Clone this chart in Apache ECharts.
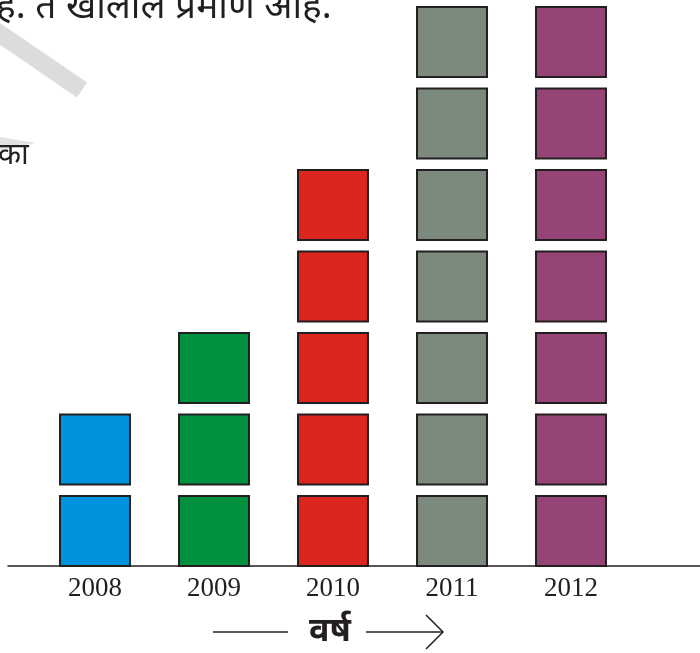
<!DOCTYPE html>
<html>
<head>
<meta charset="utf-8">
<script src="https://cdn.jsdelivr.net/npm/echarts@6/dist/echarts.min.js"></script>
<style>
  html, body { margin: 0; padding: 0; background: #fff; }
  #chart { width: 700px; height: 653px; }
</style>
</head>
<body>
<div id="chart"></div>
<script>
// years and how many squares stand above each year
var years = ['2008', '2009', '2010', '2011', '2012'];
var counts = [2, 3, 5, 7, 7];
var colors = ['#0093dd', '#00913f', '#da261e', '#7b8a7d', '#964476'];

// one cell per square: [year index, level]
var cells = [];
counts.forEach(function (n, i) {
    for (var k = 0; k < n; k++) {
        cells.push([i, k]);
    }
});

var cellFrac = 0.86;   // square height as part of one level
var widthFrac = 0.588; // square width as part of one category

var chart = echarts.init(document.getElementById('chart'));
var option = {
    animation: false,
    grid: [
        { left: 35.5, width: 595, top: 0, bottom: 87 },
        { left: 8, right: 0, top: 0, bottom: 87 }
    ],
    xAxis: [
        {
            type: 'category',
            gridIndex: 0,
            data: years,
            axisLine: { show: false },
            axisTick: { show: false },
            axisLabel: {
                margin: 9,
                color: '#231f20',
                fontFamily: 'Liberation Serif',
                fontSize: 27
            }
        },
        {
            type: 'value',
            gridIndex: 1,
            min: 0,
            max: 1,
            axisLine: { show: true, lineStyle: { color: '#231f20', width: 1.5 } },
            axisTick: { show: false },
            axisLabel: { show: false },
            splitLine: { show: false }
        }
    ],
    yAxis: [
        { type: 'value', gridIndex: 0, min: 0, max: 6.945, show: false },
        { type: 'value', gridIndex: 1, min: 0, max: 1, show: false }
    ],
    series: [{
        type: 'custom',
        xAxisIndex: 0,
        yAxisIndex: 0,
        data: cells,
        renderItem: function (params, api) {
            var i = api.value(0);
            var k = api.value(1);
            var p0 = api.coord([i, k]);
            var p1 = api.coord([i, k + cellFrac]);
            var w = api.size([1, 0])[0] * widthFrac;
            return {
                type: 'rect',
                shape: { x: p0[0] - w / 2, y: p1[1], width: w, height: p0[1] - p1[1] },
                style: { fill: colors[i], stroke: '#231f20', lineWidth: 2 }
            };
        }
    }],
    graphic: [
        // faded watermark stripe
        { type: 'line', shape: { x1: -10, y1: 27, x2: 82, y2: 90 }, style: { stroke: '#dcdcdc', lineWidth: 18 }, z: -1 },
        { type: 'polygon', shape: { points: [[0, 137], [36, 143], [0, 150]] }, style: { fill: '#e2e2e2' }, z: -1 },
        // cut text from the page above
        {
            type: 'text', x: -4, y: -11,
            style: { text: 'हे. ते खालील प्रमाणे आहे.', font: '37px "Noto Sans", sans-serif', fill: '#231f20', verticalAlign: 'top' }
        },
        {
            type: 'text', left: -2, top: 140,
            style: { text: 'का', font: '30px "Noto Sans", sans-serif', fill: '#231f20' }
        },
        // axis name with arrow
        { type: 'line', shape: { x1: 213, y1: 632, x2: 288, y2: 632 }, style: { stroke: '#231f20', lineWidth: 1.5 } },
        {
            type: 'text', x: 330, y: 631,
            style: { text: 'वर्ष', font: 'bold 34px "Noto Sans", sans-serif', fill: '#231f20', align: 'center', verticalAlign: 'middle' }
        },
        { type: 'line', shape: { x1: 366, y1: 632, x2: 443, y2: 632 }, style: { stroke: '#231f20', lineWidth: 1.5 } },
        { type: 'polyline', shape: { points: [[426, 615], [443, 632], [426, 649]] }, style: { stroke: '#231f20', lineWidth: 1.5, fill: null } }
    ]
};
chart.setOption(option);
</script>
</body>
</html>
